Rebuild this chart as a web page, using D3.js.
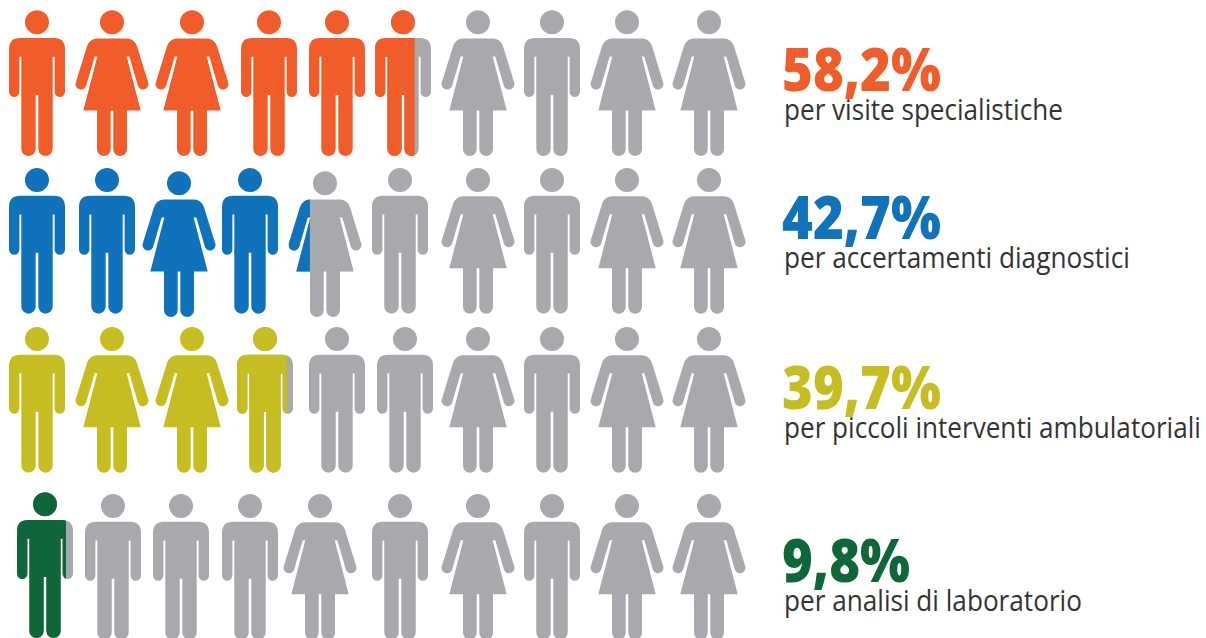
<!DOCTYPE html>
<html>
<head>
<meta charset="utf-8">
<script src="https://cdn.jsdelivr.net/npm/d3@7"></script>
<style>
  html, body { margin: 0; padding: 0; background: #fff; }
  svg { display: block; }
</style>
</head>
<body>
<svg width="1206" height="638"></svg>
<script>
// data
var values = [58.2, 42.7, 39.7, 9.8];
var valueLabels = ["58,2%", "42,7%", "39,7%", "9,8%"];
var labels = ["per visite specialistiche", "per accertamenti diagnostici", "per piccoli interventi ambulatoriali", "per analisi di laboratorio"];
var colours = ["#f15d2a", "#1072ba", "#c5bd22", "#0f6638"];
var grey = "#a7a9ac";
// m = uomo, f = donna
var people = ["mffmmmfmff", "mmfmfmfmff", "mffmmmfmff", "mmmmfmfmff"];
// how much of the last coloured figure is painted
var lastFill = [0.71, 0.29, 0.89, 0.875];

// layout
var svg = d3.select("svg");
var rowTop = d3.scaleOrdinal().domain([0, 1, 2, 3]).range([10.3, 168, 327, 494]);
var slotRange = [
    [37, 112, 192, 269, 337, 403, 478, 552, 627, 709],
    [37, 107, 179, 250, 325, 400, 478, 552, 627, 709],
    [37, 112, 192, 265, 337, 405, 478, 552, 627, 709],
    [45, 113, 181, 250, 320, 400, 478, 552, 627, 709]
];
var numberBase = d3.scaleOrdinal().domain([0, 1, 2, 3]).range([91, 239, 409, 582]);
var labelBase = d3.scaleOrdinal().domain([0, 1, 2, 3]).range([120, 268, 438, 611]);
var numberWidth = d3.scaleOrdinal().domain([0, 1, 2, 3]).range([159, 159, 159, 128]);
var labelWidth = d3.scaleOrdinal().domain([0, 1, 2, 3]).range([279, 346, 417, 298]);

// the figures, drawn from the top of the head
var head = "M-12,12A12,12 0 1 1 12,12A12,12 0 1 1 -12,12Z";
var glyph = {
    m: head + "M-17,27.7H17Q28,27.7 28,39V81.5A5.2,5.2 0 0 1 17.6,81.5V46.4H15.7V138.5A7.2,7.2 0 0 1 1.3,138.5V84.7H-1.3V138.5A7.2,7.2 0 0 1 -15.7,138.5V46.4H-17.6V81.5A5.2,5.2 0 0 1 -28,81.5V39Q-28,27.7 -17,27.7Z",
    f: head + "M-15,28.3H15Q22,28.3 25,36L36,71.5A5.3,5.3 0 0 1 26,76L17.3,46.3H14.7L28.7,100.3H15V138.8A6.85,6.85 0 0 1 1.3,138.8V100.3H-1.3V138.8A6.85,6.85 0 0 1 -15,138.8V100.3H-28.7L-14.7,46.3H-17.3L-26,76A5.3,5.3 0 0 1 -36,71.5L-25,36Q-22,28.3 -15,28.3Z"
};
var halfWidth = { m: 28, f: 36 };

var nudge = function (r, i, g) {
    if (r == 1 && g == "f" && i < 5) return 3.3;
    if (r == 3 && i == 0) return -1.7;
    return 0;
};

var rows = svg.selectAll("g.row")
    .data(values)
    .enter().append("g")
    .attr("class", "row");

rows.each(function (v, r) {
    var slot = d3.scaleLinear().domain(d3.range(10)).range(slotRange[r]);
    var full = Math.floor(v / 10);

    var fig = d3.select(this).selectAll("g.fig")
        .data(people[r].split(""))
        .enter().append("g")
        .attr("class", "fig")
        .attr("transform", function (g, i) {
            return "translate(" + slot(i) + "," + (rowTop(r) + nudge(r, i, g)) + ")";
        });

    fig.append("path")
        .attr("d", function (g) { return glyph[g]; })
        .attr("fill", function (g, i) { return i < full ? colours[r] : grey; });

    // the partly painted figure goes over the grey one
    var part = fig.filter(function (g, i) { return i == full; });
    var g = part.datum();
    var w = d3.scaleLinear().domain([0, 1]).range([-halfWidth[g], halfWidth[g]]);
    part.append("clipPath")
        .attr("id", "part" + r)
        .append("rect")
        .attr("x", w(0))
        .attr("y", -5)
        .attr("width", w(lastFill[r]) - w(0))
        .attr("height", 160);
    part.append("path")
        .attr("d", glyph[g])
        .attr("fill", colours[r])
        .attr("clip-path", "url(#part" + r + ")");
});

// big percentages
svg.selectAll("text.num")
    .data(valueLabels)
    .enter().append("text")
    .attr("class", "num")
    .attr("y", function (d, i) { return numberBase(i); })
    .attr("x", 782)
    .attr("textLength", function (d, i) { return numberWidth(i); })
    .attr("lengthAdjust", "spacingAndGlyphs")
    .style("font-family", "'Open Sans', sans-serif")
    .style("font-weight", 800)
    .style("font-size", "61px")
    .style("fill", function (d, i) { return colours[i]; })
    .text(function (d) { return d; });

// labels under the percentages, squeezed to the width they have in the picture
svg.selectAll("text.lab")
    .data(labels)
    .enter().append("text")
    .attr("class", "lab")
    .style("font-family", "'Open Sans', sans-serif")
    .style("font-size", "29px")
    .style("fill", "#333335")
    .text(function (d) { return d; })
    .attr("transform", function (d, i) {
        var k = labelWidth(i) / this.getComputedTextLength();
        return "translate(784," + labelBase(i) + ") scale(" + k + ",1)";
    });
</script>
</body>
</html>
